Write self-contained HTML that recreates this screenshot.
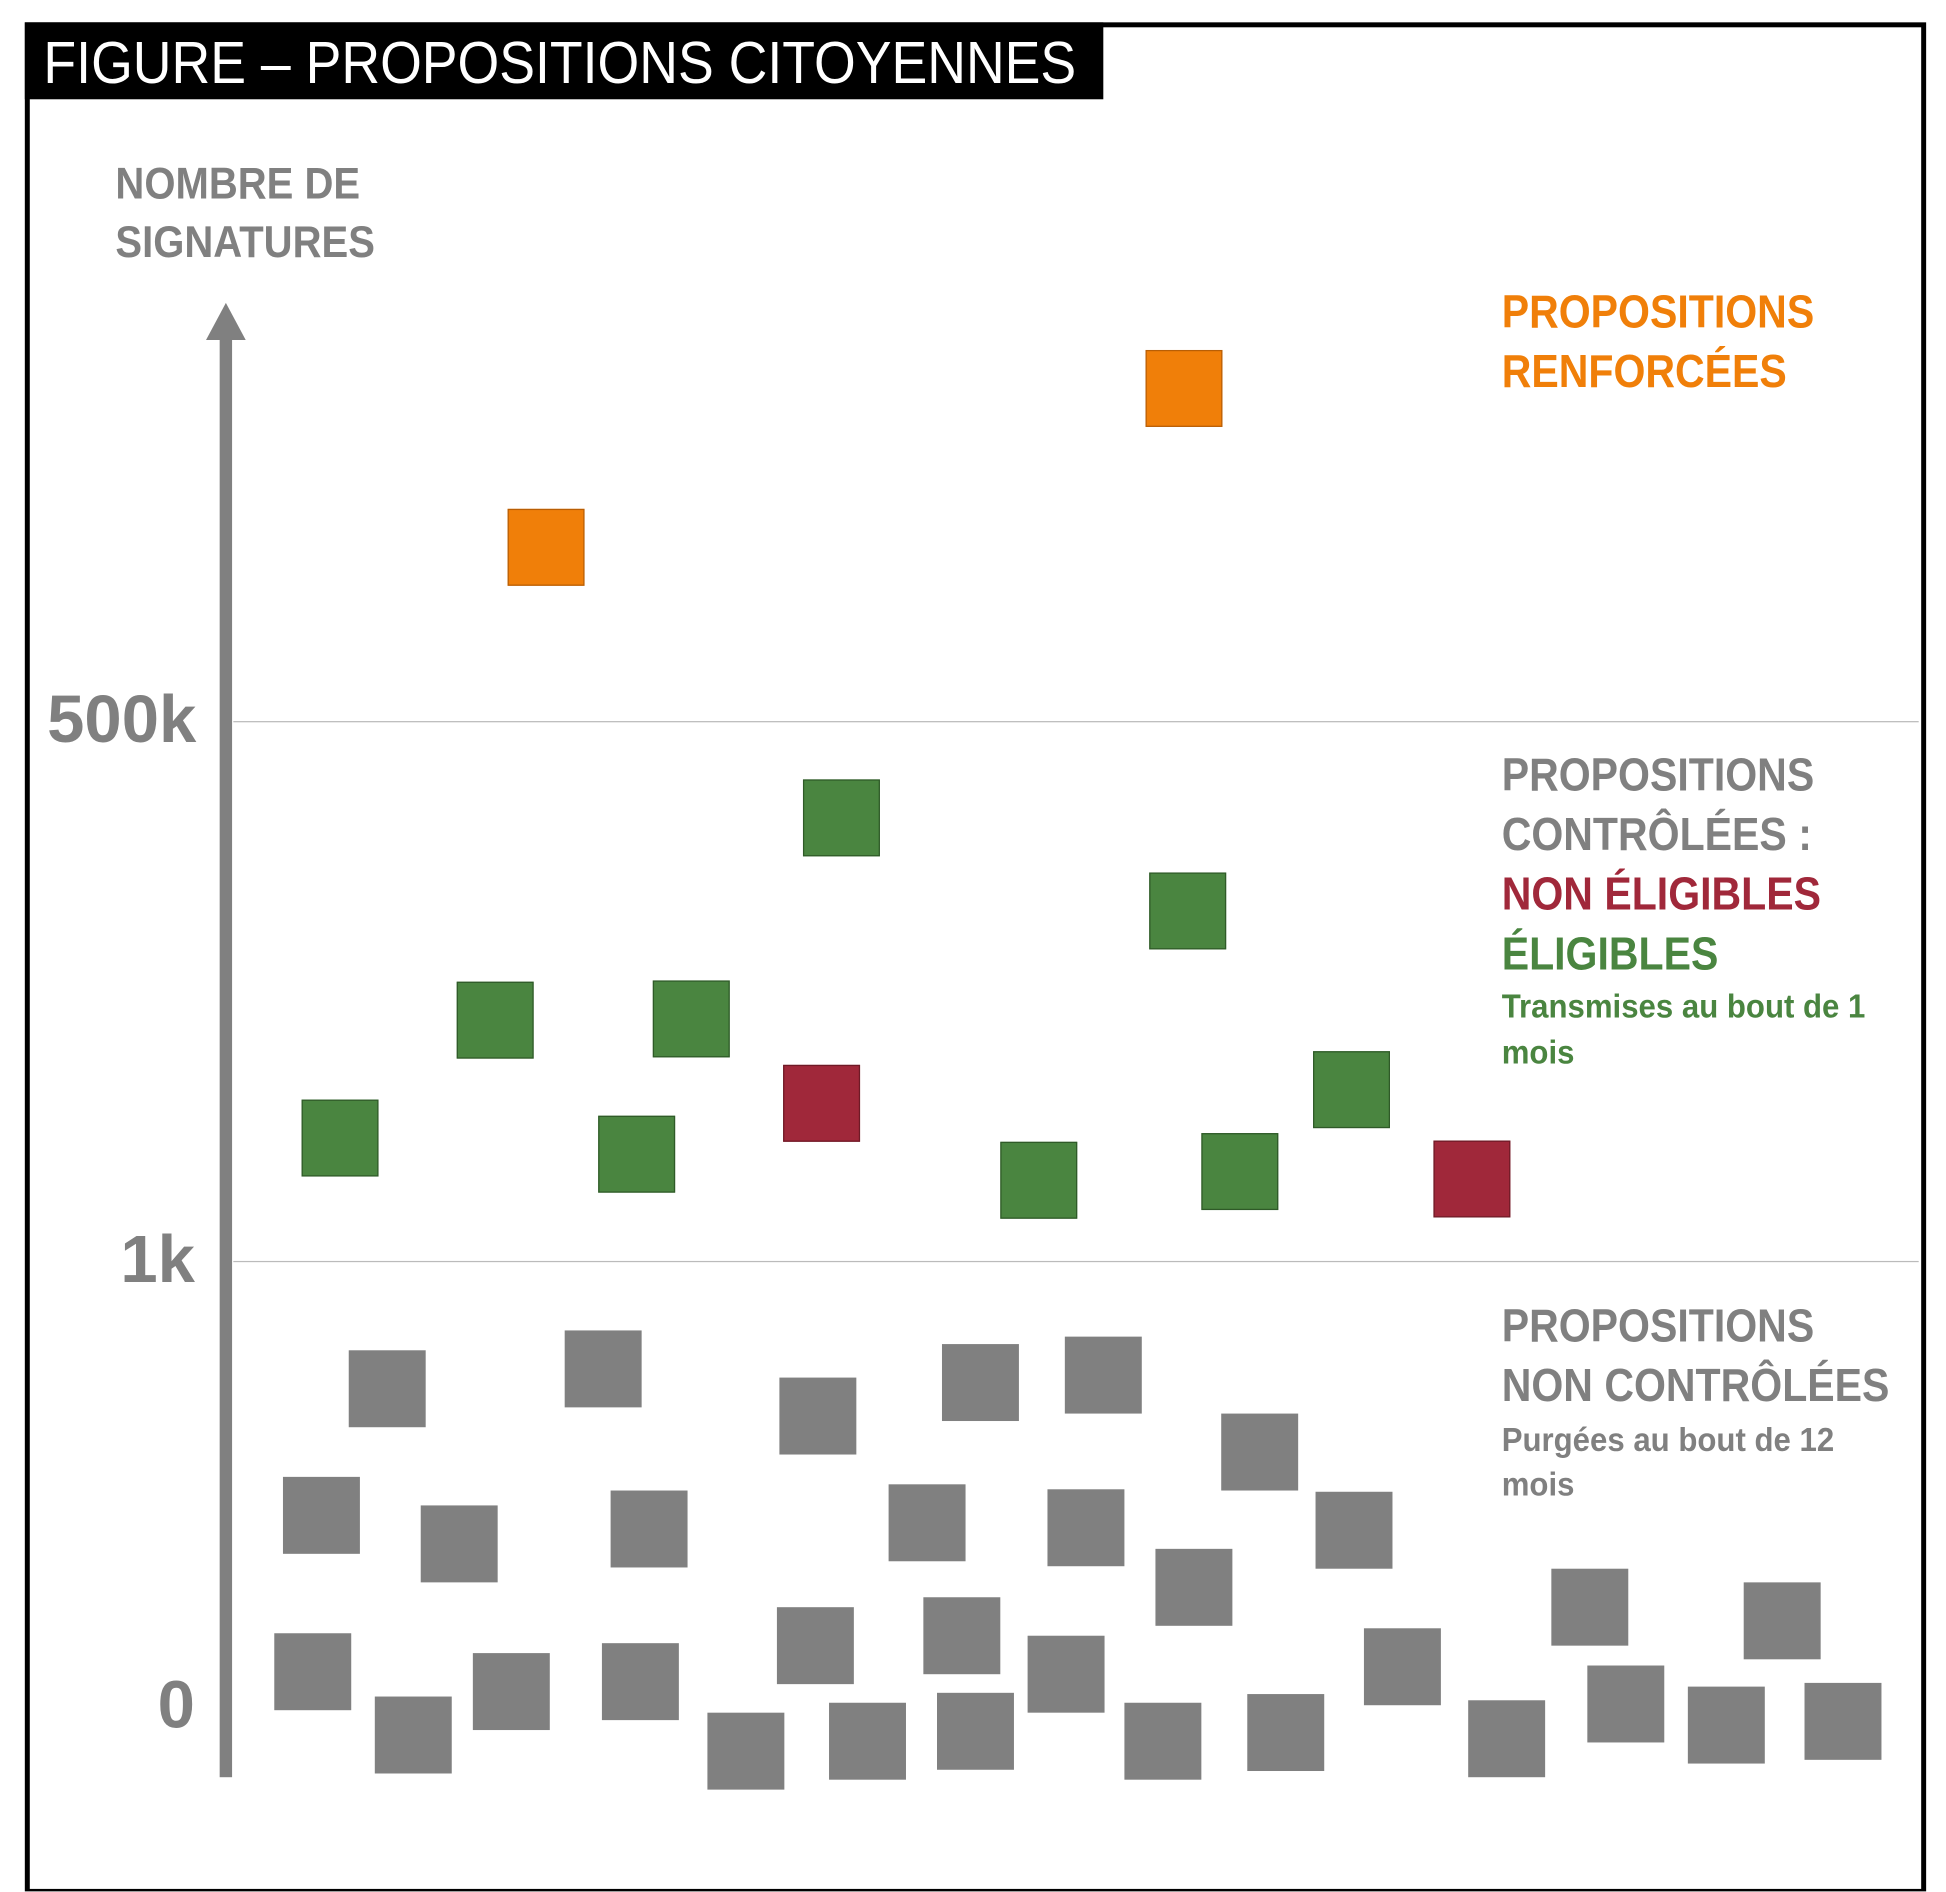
<!DOCTYPE html>
<html><head><meta charset="utf-8"><style>
html,body{margin:0;padding:0;background:#fff;}
#w{position:absolute;left:0;top:0;width:1568px;height:1524px;transform:scale(1.24107);transform-origin:0 0;overflow:hidden;}
.t{position:absolute;white-space:nowrap;font-family:"Liberation Sans",sans-serif;font-weight:bold;transform-origin:0 50%;line-height:1;}
.s{position:absolute;width:62px;height:62px;box-sizing:border-box;}
.o{background:#f07f09;border:1px solid #b85e05;}
.g{background:#4a8540;border:1px solid #2f5a28;}
.r{background:#a0283a;border:1px solid #6e1a26;}
.k{background:#808080;}
</style></head><body><div id="w">
<div style="position:absolute;left:20px;top:18px;width:1524px;height:1500px;border:4px solid #000;"></div>
<div style="position:absolute;left:20px;top:18px;width:869px;height:62px;background:#000;"></div>
<div class="t" style="left:35px;top:28px;font-size:48px;color:#fff;font-weight:normal;transform:scaleX(0.9);">FIGURE – PROPOSITIONS CITOYENNES</div>
<div class="t" style="left:93px;top:130px;font-size:36px;color:#808080;transform:scaleX(0.896);">NOMBRE DE</div>
<div class="t" style="left:93px;top:177px;font-size:36px;color:#808080;transform:scaleX(0.896);">SIGNATURES</div>
<div style="position:absolute;left:177px;top:268px;width:10px;height:1164px;background:#808080;"></div>
<div style="position:absolute;left:166px;top:244px;width:0;height:0;border-left:16px solid transparent;border-right:16px solid transparent;border-bottom:30px solid #808080;"></div>
<div style="position:absolute;left:188px;top:581px;width:1358px;height:1px;background:#bbb;"></div>
<div style="position:absolute;left:188px;top:1016px;width:1358px;height:1px;background:#bbb;"></div>
<div class="t" style="left:38px;top:553px;font-size:54px;color:#808080;">500k</div>
<div class="t" style="left:97px;top:988px;font-size:54px;color:#808080;">1k</div>
<div class="t" style="left:127px;top:1347px;font-size:54px;color:#808080;">0</div>

<div class="t" style="left:1210px;top:233px;font-size:37px;color:#f07f09;transform:scaleX(0.894);">PROPOSITIONS</div>
<div class="t" style="left:1210px;top:281px;font-size:37px;color:#f07f09;transform:scaleX(0.894);">RENFORCÉES</div>
<div class="t" style="left:1210px;top:606px;font-size:37px;color:#808080;transform:scaleX(0.894);">PROPOSITIONS</div>
<div class="t" style="left:1210px;top:654px;font-size:37px;color:#808080;transform:scaleX(0.894);">CONTRÔLÉES :</div>
<div class="t" style="left:1210px;top:702px;font-size:37px;color:#a0283a;transform:scaleX(0.894);">NON ÉLIGIBLES</div>
<div class="t" style="left:1210px;top:750px;font-size:37px;color:#4a8540;transform:scaleX(0.894);">ÉLIGIBLES</div>
<div class="t" style="left:1210px;top:798px;font-size:27px;color:#4a8540;transform:scaleX(0.93);">Transmises au bout de 1</div>
<div class="t" style="left:1210px;top:835px;font-size:27px;color:#4a8540;transform:scaleX(0.93);">mois</div>
<div class="t" style="left:1210px;top:1050px;font-size:37px;color:#808080;transform:scaleX(0.894);">PROPOSITIONS</div>
<div class="t" style="left:1210px;top:1098px;font-size:37px;color:#808080;transform:scaleX(0.894);">NON CONTRÔLÉES</div>
<div class="t" style="left:1210px;top:1147px;font-size:27px;color:#808080;transform:scaleX(0.93);">Purgées au bout de 12</div>
<div class="t" style="left:1210px;top:1183px;font-size:27px;color:#808080;transform:scaleX(0.93);">mois</div>

<div class="s o" style="left:409px;top:410px"></div>
<div class="s o" style="left:923px;top:282px"></div>
<div class="s g" style="left:243px;top:886px"></div>
<div class="s g" style="left:368px;top:791px"></div>
<div class="s g" style="left:526px;top:790px"></div>
<div class="s g" style="left:482px;top:899px"></div>
<div class="s g" style="left:647px;top:628px"></div>
<div class="s g" style="left:806px;top:920px"></div>
<div class="s g" style="left:926px;top:703px"></div>
<div class="s g" style="left:968px;top:913px"></div>
<div class="s g" style="left:1058px;top:847px"></div>
<div class="s r" style="left:631px;top:858px"></div>
<div class="s r" style="left:1155px;top:919px"></div>

<div class="s k" style="left:281px;top:1088px"></div>
<div class="s k" style="left:455px;top:1072px"></div>
<div class="s k" style="left:628px;top:1110px"></div>
<div class="s k" style="left:759px;top:1083px"></div>
<div class="s k" style="left:858px;top:1077px"></div>
<div class="s k" style="left:984px;top:1139px"></div>
<div class="s k" style="left:228px;top:1190px"></div>
<div class="s k" style="left:339px;top:1213px"></div>
<div class="s k" style="left:492px;top:1201px"></div>
<div class="s k" style="left:716px;top:1196px"></div>
<div class="s k" style="left:844px;top:1200px"></div>
<div class="s k" style="left:931px;top:1248px"></div>
<div class="s k" style="left:1060px;top:1202px"></div>
<div class="s k" style="left:1250px;top:1264px"></div>
<div class="s k" style="left:1405px;top:1275px"></div>
<div class="s k" style="left:221px;top:1316px"></div>
<div class="s k" style="left:302px;top:1367px"></div>
<div class="s k" style="left:381px;top:1332px"></div>
<div class="s k" style="left:485px;top:1324px"></div>
<div class="s k" style="left:626px;top:1295px"></div>
<div class="s k" style="left:744px;top:1287px"></div>
<div class="s k" style="left:828px;top:1318px"></div>
<div class="s k" style="left:570px;top:1380px"></div>
<div class="s k" style="left:668px;top:1372px"></div>
<div class="s k" style="left:755px;top:1364px"></div>
<div class="s k" style="left:906px;top:1372px"></div>
<div class="s k" style="left:1005px;top:1365px"></div>
<div class="s k" style="left:1099px;top:1312px"></div>
<div class="s k" style="left:1183px;top:1370px"></div>
<div class="s k" style="left:1279px;top:1342px"></div>
<div class="s k" style="left:1360px;top:1359px"></div>
<div class="s k" style="left:1454px;top:1356px"></div>
</div></body></html>
